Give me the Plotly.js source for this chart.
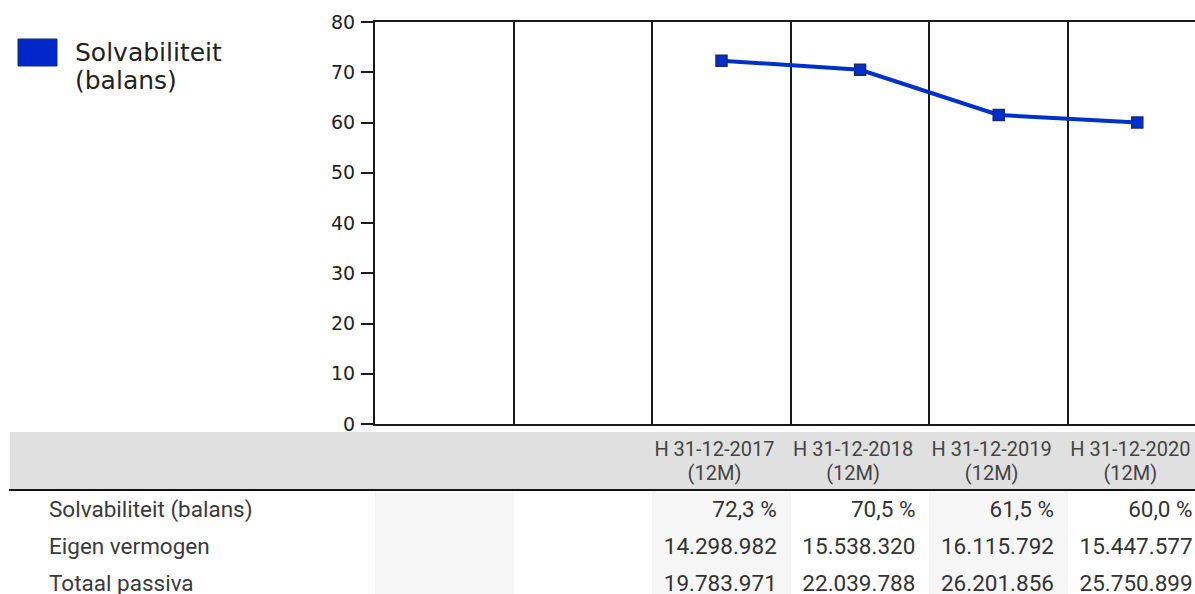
<!DOCTYPE html>
<html>
<head>
<meta charset="utf-8">
<script src="https://cdn.plot.ly/plotly-3.0.1.min.js"></script>
<style>
  html, body { margin: 0; padding: 0; width: 1195px; height: 594px; overflow: hidden; background: #fff; }
  #chart { position: absolute; left: 0; top: 0; width: 1195px; height: 440px; }
  #table { position: absolute; left: 0; top: 0; width: 1195px; height: 594px; font-family: Roboto, sans-serif; }
  .abs { position: absolute; box-sizing: border-box; }
  .hdr { display: flex; flex-direction: column; justify-content: center; align-items: center; font-size: 20px; line-height: 24px; color: #444; white-space: nowrap; }
  .cell { display: flex; align-items: center; justify-content: flex-end; font-size: 22.5px; color: #333; white-space: nowrap; }
  .lbl { display: flex; align-items: center; justify-content: flex-start; font-size: 22.5px; color: #3a3a3a; white-space: nowrap; }
</style>
</head>
<body>
<div id="chart"></div>
<div id="table"></div>
<script>
// ---- data ----
const periods = [null, null, "H 31-12-2017", "H 31-12-2018", "H 31-12-2019", "H 31-12-2020"];
const durations = [null, null, "12M", "12M", "12M", "12M"];
const solvabiliteit = [null, null, 72.3, 70.5, 61.5, 60.0];
const eigenVermogen = [null, null, 14298982, 15538320, 16115792, 15447577];
const totaalPassiva = [null, null, 19783971, 22039788, 26201856, 25750899];
const seriesName = "Solvabiliteit (balans)";
const rowLabels = ["Solvabiliteit (balans)", "Eigen vermogen", "Totaal passiva"];
const yTicks = [0, 10, 20, 30, 40, 50, 60, 70, 80];

// ---- chart ----
const colIdx = periods.map((_, i) => i);
const plotLeft = 375, plotRight = 1195, colW = 138.6;
const xMax = -0.5 + (plotRight - plotLeft) / colW;

const trace = {
  x: colIdx,
  y: solvabiliteit,
  type: 'scatter',
  mode: 'lines+markers',
  name: seriesName,
  line: { color: '#0030cc', width: 4 },
  marker: { symbol: 'square', size: 11, color: '#0030cc', line: { color: '#1a2a70', width: 1.5 } },
  hoverinfo: 'skip',
  showlegend: false
};

const px2x = p => (p - plotLeft) / (plotRight - plotLeft);
const px2y = p => (424 - p) / 402;

const layout = {
  width: 1195, height: 440,
  margin: { l: plotLeft, r: 0, t: 22, b: 16 },
  paper_bgcolor: 'rgba(0,0,0,0)', plot_bgcolor: 'rgba(0,0,0,0)',
  font: { family: 'DejaVu Sans', color: '#222' },
  xaxis: {
    range: [-0.5, xMax], tickmode: 'array',
    tickvals: colIdx.slice(0, -1).map(i => i + 0.5),
    showticklabels: false, ticks: '',
    showgrid: true, gridcolor: '#1a1a1a', gridwidth: 2,
    showline: true, linecolor: '#1a1a1a', linewidth: 2, mirror: true,
    zeroline: false, fixedrange: true
  },
  yaxis: {
    range: [0, 80], tickmode: 'array', tickvals: yTicks,
    ticks: 'outside', ticklen: 12, tickwidth: 2, tickcolor: '#1a1a1a',
    ticklabeloverflow: 'allow', ticklabelstandoff: 2,
    tickfont: { family: 'DejaVu Sans', size: 19, color: '#222' },
    showline: true, linecolor: '#1a1a1a', linewidth: 2,
    showgrid: false, zeroline: false, fixedrange: true
  },
  shapes: [{
    type: 'rect', xref: 'paper', yref: 'paper', layer: 'above',
    x0: px2x(18), x1: px2x(57), y0: px2y(66), y1: px2y(39),
    fillcolor: '#0028c8', line: { color: '#1a2a70', width: 1 }
  }],
  annotations: [
    { xref: 'paper', yref: 'paper', x: px2x(73), y: px2y(52), xanchor: 'left', yanchor: 'middle',
      text: 'Solvabiliteit', showarrow: false, font: { family: 'DejaVu Sans', size: 25, color: '#222' } },
    { xref: 'paper', yref: 'paper', x: px2x(73), y: px2y(80), xanchor: 'left', yanchor: 'middle',
      text: '(balans)', showarrow: false, font: { family: 'DejaVu Sans', size: 25, color: '#222' } }
  ]
};

Plotly.newPlot('chart', [trace], layout, { displayModeBar: false, staticPlot: true });

// ---- table ----
const nf = n => String(Math.round(n)).replace(/\B(?=(\d{3})+(?!\d))/g, '.');
const pf = v => v.toFixed(1).replace('.', ',') + '\u00a0%';
const rows = [
  solvabiliteit.map(v => v == null ? '' : pf(v)),
  eigenVermogen.map(v => v == null ? '' : nf(v)),
  totaalPassiva.map(v => v == null ? '' : nf(v))
];

const tbl = document.getElementById('table');
function add(cls, style, html) {
  const d = document.createElement('div');
  d.className = 'abs ' + cls;
  Object.assign(d.style, style);
  if (html != null) d.innerHTML = html;
  tbl.appendChild(d);
  return d;
}
const hdrTop = 432, hdrH = 57, lineH = 2, rowTop = hdrTop + hdrH + lineH, rowH = 36.7, padR = 14;
// header band + line
add('', { left: '10px', top: hdrTop + 'px', width: '1200px', height: hdrH + 'px', background: '#e0e0e0' });
add('', { left: '9px', top: (hdrTop + hdrH) + 'px', width: '1200px', height: lineH + 'px', background: '#151515' });
// shaded columns
periods.forEach((p, i) => {
  if (i % 2 === 0) add('', { left: (plotLeft + i * colW) + 'px', top: rowTop + 'px', width: colW + 'px', height: '200px', background: '#f6f6f6' });
});
// header texts
periods.forEach((p, i) => {
  if (p == null) return;
  add('hdr', { left: (plotLeft + i * colW) + 'px', top: hdrTop + 'px', width: (colW - padR) + 'px', height: hdrH + 'px' },
      '<div>' + p + '</div><div>(' + durations[i] + ')</div>');
});
// rows
rowLabels.forEach((lab, r) => {
  const top = rowTop + r * rowH;
  add('lbl', { left: '49px', top: top + 'px', width: '320px', height: rowH + 'px' }, lab);
  rows[r].forEach((t, i) => {
    if (!t) return;
    add('cell', { left: (plotLeft + i * colW) + 'px', top: top + 'px', width: (colW - padR) + 'px', height: rowH + 'px' }, t);
  });
});
</script>
</body>
</html>
